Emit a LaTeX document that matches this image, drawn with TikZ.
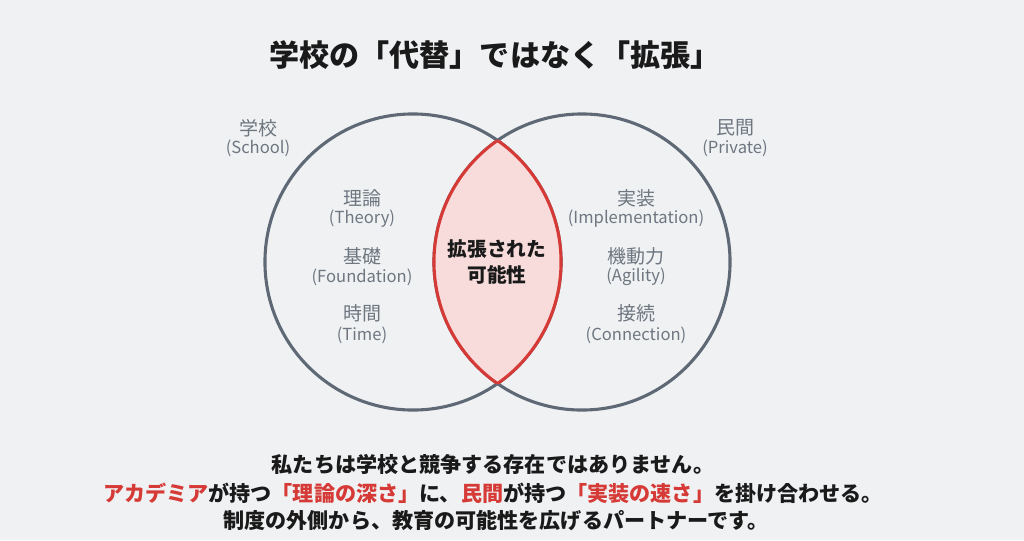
\documentclass[tikz,border=0pt]{standalone}
\usepackage{fontspec}
\setmainfont{Noto Sans CJK JP}
\usepackage{tikz}
\usetikzlibrary{positioning}
\definecolor{bgcol}{HTML}{EFF1F3}
\definecolor{ringgray}{HTML}{5F6975}
\definecolor{labelgray}{HTML}{6E7680}
\definecolor{mred}{HTML}{D63A36}
\definecolor{lensfill}{HTML}{F7DCDB}
\definecolor{ink}{HTML}{1A1A1A}
\tikzset{ring/.style = {draw=ringgray, line width=2.2pt}}
\tikzset{lensline/.style = {draw=mred, line width=2.2pt}}
\tikzset{jp/.style = {text=labelgray, font=\fontsize{13.5}{15}\selectfont, inner sep=0}}
\tikzset{en/.style = {text=labelgray, font=\fontsize{11.8}{13}\selectfont, inner sep=0}}
\tikzset{msg/.style = {text=ink, font=\bfseries\fontsize{15}{17}\selectfont, inner sep=0}}
\newcommand{\hl}[1]{\textcolor{mred}{#1}}

\begin{document}
\begin{tikzpicture}[x=0.025cm, y=-0.025cm]
      \fill [bgcol] (0, 0) rectangle (1024, 540);
      \useasboundingbox (0, 0) rectangle (1024, 540);

      \coordinate (school) at (413, 262);
      \coordinate (private) at (582, 262);

      \draw [ring] (school) circle [radius=3.7cm];
      \draw [ring] (private) circle [radius=3.7cm];

      \begin{scope}
        \clip (school) circle [radius=3.7cm];
        \fill [lensfill] (private) circle [radius=3.7cm];
        \draw [lensline] (private) circle [radius=3.7cm];
      \end{scope}
      \begin{scope}
        \clip (private) circle [radius=3.7cm];
        \draw [lensline] (school) circle [radius=3.7cm];
      \end{scope}

      \node [text=ink, font=\bfseries\fontsize{21.4}{23}\selectfont] (title) at (495, 55) {学校の「代替」ではなく「拡張」};

      \node [jp] (schoolJP) at (258, 128) {学校};
      \node [en] (schoolEN) at (258, 148) {(School)};
      \node [jp] (privJP) at (735, 128) {民間};
      \node [en] (privEN) at (735, 148) {(Private)};

      \node [jp] (theoryJP) at (362, 198) {理論};
      \node [en] (theoryEN) at (362, 219) {(Theory)};
      \node [jp] (foundJP) at (362, 256) {基礎};
      \node [en] (foundEN) at (362, 277) {(Foundation)};
      \node [jp] (timeJP) at (362, 313) {時間};
      \node [en] (timeEN) at (362, 335) {(Time)};

      \node [jp] (implJP) at (636, 198) {実装};
      \node [en] (implEN) at (636, 219) {(Implementation)};
      \node [jp] (agilJP) at (636, 256) {機動力};
      \node [en] (agilEN) at (636, 277) {(Agility)};
      \node [jp] (connJP) at (636, 313) {接続};
      \node [en] (connEN) at (636, 335) {(Connection)};

      \node [text=ink, font=\bfseries\fontsize{14}{17.8}\selectfont, align=center, inner sep=0] (core) at (497, 262) {拡張された\\可能性};

      \node [msg] (line1) at (493, 464) {私たちは学校と競争する存在ではありません。};
      \node [msg] (line2) at (493, 493) {\hl{アカデミア}が持つ\hl{「理論の深さ」}に、\hl{民間}が持つ\hl{「実装の速さ」}を掛け合わせる。};
      \node [msg] (line3) at (496, 521) {制度の外側から、教育の可能性を広げるパートナーです。};
    \end{tikzpicture}
\end{document}
